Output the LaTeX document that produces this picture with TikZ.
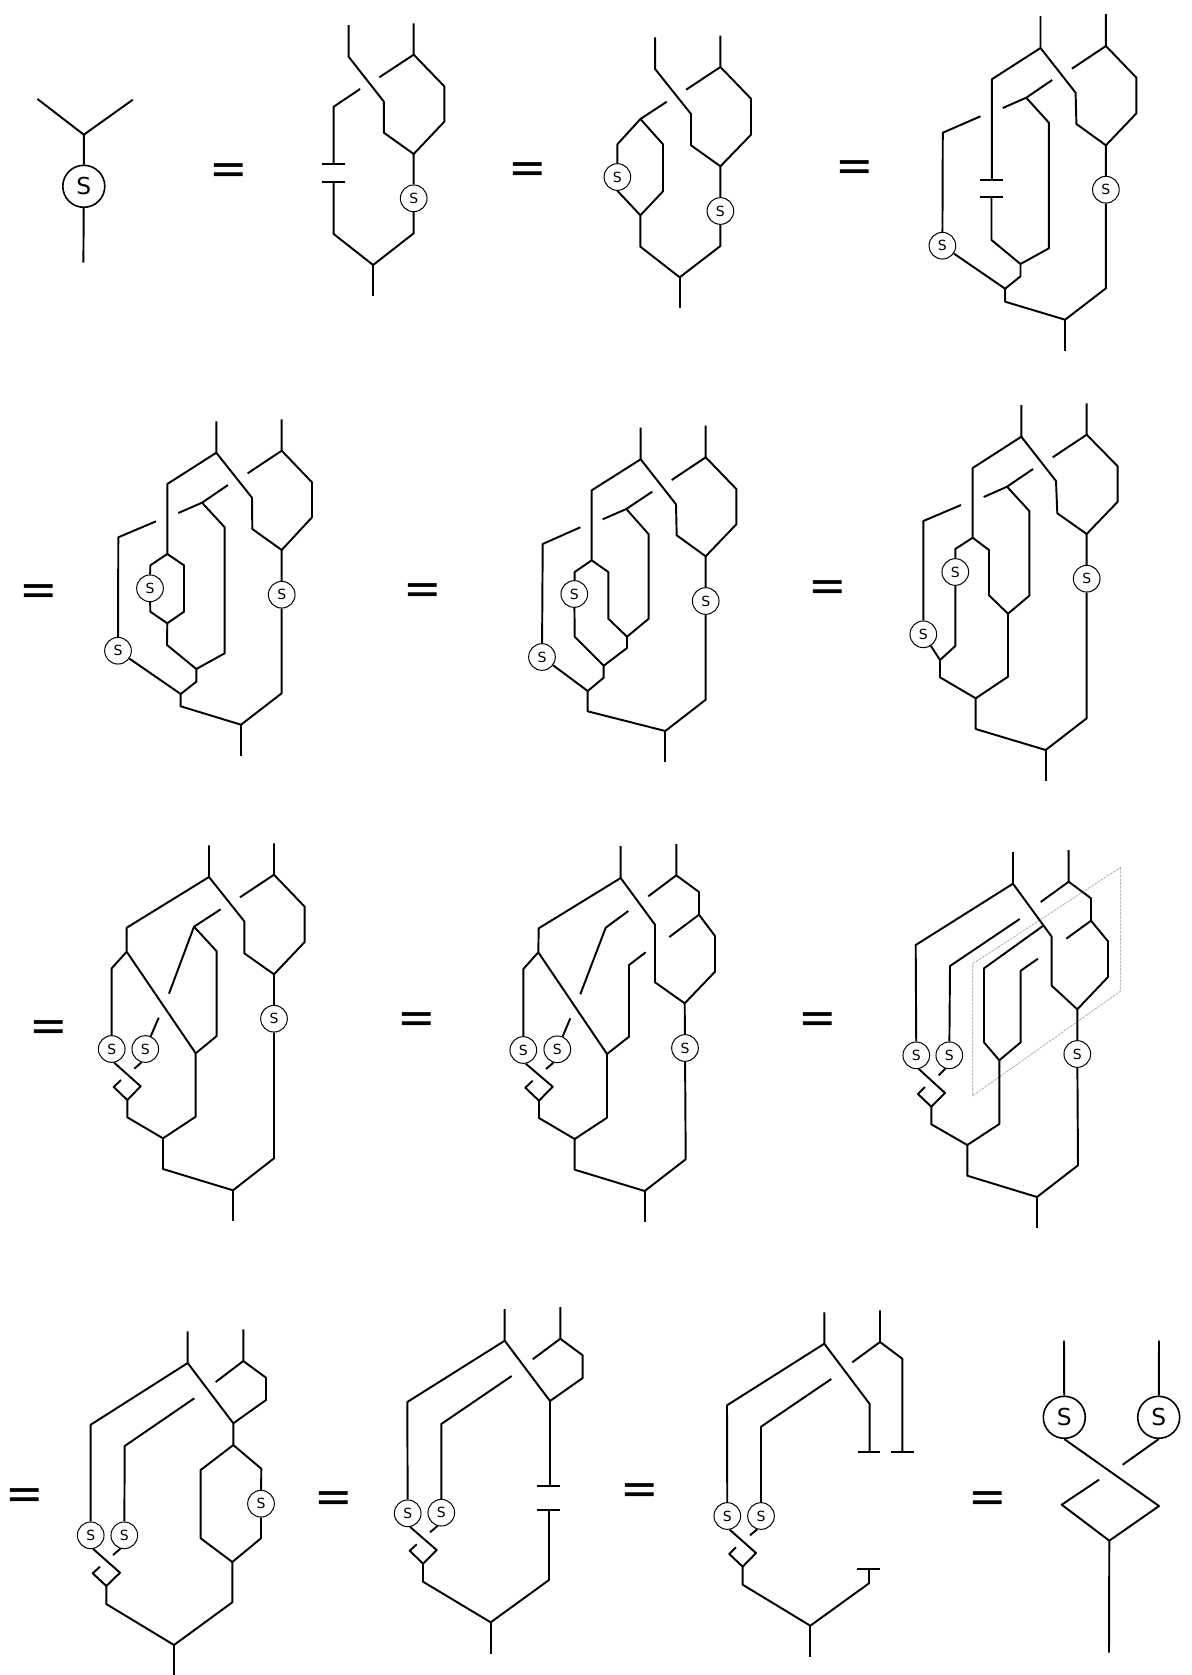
\documentclass[tikz,border=0pt]{standalone}
\usepackage{fontspec}
\setmainfont{DejaVu Sans}
\tikzset{
  wire/.style={line width=1.45pt,line join=round},
  capbar/.style={line width=1.45pt},
  smallS/.style={draw,circle,line width=0.75pt,minimum size=20pt,inner sep=0pt,font=\fontsize{10.5}{11}\selectfont},
  bigS/.style={draw,circle,line width=1.2pt,minimum size=31.5pt,inner sep=0pt,font=\fontsize{17.5}{18}\selectfont},
  eqsign/.style={anchor=base,yshift=-11.2pt,xshift=0.5pt,inner sep=0pt,font=\fontsize{34.5}{36}\selectfont},
  frame/.style={draw=black!40,line width=0.45pt,dash pattern=on 2pt off 0.8pt}
}
\begin{document}
\begin{tikzpicture}[x=0.75pt,y=-0.75pt]
\useasboundingbox (0,0) rectangle (1192,1675);
% equals signs
\node[eqsign] (e1) at (227.7,169.7) {=};
\node[eqsign] (e2) at (526.6,169) {=};
\node[eqsign] (e3) at (854.2,166.7) {=};
\node[eqsign] (e4) at (38.5,590.5) {=};
\node[eqsign] (e5) at (422,589.5) {=};
\node[eqsign] (e6) at (827,586.5) {=};
\node[eqsign] (e7) at (48,1026.5) {=};
\node[eqsign] (e8) at (416.5,1019) {=};
\node[eqsign] (e9) at (817,1019) {=};
\node[eqsign] (e10) at (24.5,1495) {=};
\node[eqsign] (e11) at (333,1497.5) {=};
\node[eqsign] (e12) at (639,1490) {=};
\node[eqsign] (e13) at (987,1497.5) {=};

% ---- diagram 1
\node[bigS] (a) at (83.8,186.3) {S};
\coordinate (aj) at (83.8,134.7);
\draw[wire] (37.5,99) -- (aj) -- (132.8,99.7);
\draw[wire] (aj) -- (a) -- (83.4,262.7);

% ---- diagram 2
\node[smallS] (bs) at (413.7,198.3) {S};
\coordinate (bm) at (413.7,154);
\coordinate (bt) at (413.7,54.7);
\coordinate (bb) at (373.1,265);
\draw[wire] (348.6,25) -- (348.6,56.7) -- (383.9,101.7) -- (383.9,132.7) -- (bm);
\draw[wire] (413.7,23.3) -- (bt) -- (379.3,77.3);
\draw[wire] (bt) -- (444.3,86.3) -- (444.3,121.7) -- (bm);
\draw[wire] (bm) -- (bs) -- (413.7,233.3) -- (bb) -- (333.7,234) -- (333.7,181.7);
\draw[wire] (bb) -- (373.1,295.7);
\draw[wire] (360.1,89) -- (333.7,106.7) -- (333.7,164);
\draw[capbar] (322.2,164) -- (345.2,164);
\draw[capbar] (322.2,181.7) -- (345.2,181.7);

% ---- diagram 3
\node[smallS] (cs) at (720.4,211) {S};
\node[smallS] (cl) at (617.4,177) {S};
\coordinate (cm) at (720.4,166.3);
\coordinate (ct) at (720.4,67);
\coordinate (cb) at (679.7,277.3);
\coordinate (cn) at (640.4,215.3);
\coordinate (ca) at (640.4,119);
\draw[wire] (655.1,37.3) -- (655.1,69) -- (691,114) -- (691,145.3) -- (cm);
\draw[wire] (720.4,35.7) -- (ct) -- (686.1,89.7);
\draw[wire] (ct) -- (751,98.7) -- (751,134.7) -- (cm);
\draw[wire] (cm) -- (cs) -- (720.4,246) -- (cb) -- (640.4,246.7) -- (cn);
\draw[wire] (cb) -- (679.7,308.3);
\draw[wire] (666.8,101.7) -- (ca) -- (617.4,144.3) -- (cl);
\draw[wire] (ca) -- (663,144.3) -- (663,191.3) -- (cn);
\draw[wire] (cl.south) -- (cn);

% ---- diagram 4
\node[smallS] (ds) at (1105.9,189.7) {S};
\node[smallS] (dl) at (942.4,245.7) {S};
\coordinate (dA) at (1040.5,48);
\coordinate (dB) at (1105.9,46);
\coordinate (dm) at (1105.9,145.3);
\coordinate (dj) at (1020.5,264);
\coordinate (dk) at (1005.1,288.7);
\coordinate (db) at (1065.1,319.7);
\coordinate (dv) at (1026.2,97.7);
\draw[wire] (1040.5,16) -- (dA) -- (991.8,79.3) -- (991.8,180.3);
\draw[capbar] (979.8,180.3) -- (1002.8,180.3);
\draw[capbar] (979.8,196.7) -- (1002.8,196.7);
\draw[wire] (991.5,196.7) -- (991.5,240) -- (dj);
\draw[wire] (dA) -- (1075.6,92.7) -- (1076.4,124) -- (dm);
\draw[wire] (1105.9,14) -- (dB) -- (1071.9,68.7);
\draw[wire] (dB) -- (1136.4,77.7) -- (1136.4,113.3) -- (dm);
\draw[wire] (dm) -- (ds) -- (1105.9,288.3) -- (db) -- (1005.1,301.7) -- (dk);
\draw[wire] (db) -- (1065.1,350.7);
\draw[wire] (980.5,116.3) -- (942.8,132.7) -- (dl);
\draw[wire] (dl) -- (dk) -- (1020.5,276.3) -- (dj);
\draw[wire] (dj) -- (1048.9,248.3) -- (1048.9,122.7) -- (dv);
\draw[wire] (1002.8,108) -- (dv) -- (1052.2,80);

% ---- diagram 5
\node[smallS] (fs) at (281.7,594.7) {S};
\node[smallS] (fl) at (118,650.7) {S};
\node[smallS] (fi) at (150,588.3) {S};
\coordinate (fA) at (216.3,452.7);
\coordinate (fB) at (281.7,450.7);
\coordinate (fm) at (281.7,550);
\coordinate (fh) at (167.3,554);
\coordinate (fe) at (167.3,623.3);
\coordinate (fj) at (196.3,669);
\coordinate (fk) at (180.7,694);
\coordinate (fb) at (241,724.7);
\coordinate (fv) at (202,502.7);
\draw[wire] (216.3,421.3) -- (fA) -- (167.3,484) -- (fh);
\draw[wire] (fh) -- (150.3,565.3) -- (fi) -- (150.3,611.7) -- (fe);
\draw[wire] (fh) -- (184,565.3) -- (184,611.7) -- (fe);
\draw[wire] (fe) -- (167,645) -- (fj);
\draw[wire] (fA) -- (252,497.7) -- (252.3,529) -- (fm);
\draw[wire] (281.7,419.3) -- (fB) -- (247.7,473.3);
\draw[wire] (fB) -- (312,482.3) -- (312,517.3) -- (fm);
\draw[wire] (fm) -- (fs) -- (281.7,693.3) -- (fb) -- (180.7,706.3) -- (fk);
\draw[wire] (fb) -- (241,755.7);
\draw[wire] (156,521.3) -- (118.3,537.3) -- (fl);
\draw[wire] (fl) -- (fk) -- (196.3,681.7) -- (fj);
\draw[wire] (fj) -- (224.7,653.3) -- (224.7,527.3) -- (fv);
\draw[wire] (178.3,513) -- (fv) -- (228,485);

% ---- diagram 6
\node[smallS] (gs) at (705.7,601) {S};
\node[smallS] (gl) at (542,657) {S};
\node[smallS] (gi) at (574.3,594) {S};
\coordinate (gA) at (640.7,459.3);
\coordinate (gB) at (705.7,457.3);
\coordinate (gm) at (705.7,556.3);
\coordinate (gh) at (591.7,560.3);
\coordinate (gj) at (603.7,665.7);
\coordinate (gn) at (627,636.7);
\coordinate (gk) at (587.7,691);
\coordinate (gb) at (665.3,731);
\coordinate (gv) at (626.3,509);
\draw[wire] (640.7,427.7) -- (gA) -- (591.7,490.3) -- (gh);
\draw[wire] (gh) -- (574.7,572) -- (gi) -- (574.7,636.7) -- (gj);
\draw[wire] (gh) -- (608.3,572) -- (608.3,618.7) -- (gn);
\draw[wire] (gn) -- (627,648) -- (gj) -- (603.7,677.7) -- (gk);
\draw[wire] (gn) -- (648.7,618.7) -- (648.7,534.3) -- (gv);
\draw[wire] (602.7,519.3) -- (gv) -- (652.3,491.7);
\draw[wire] (gA) -- (676,504.3) -- (676.7,535.3) -- (gm);
\draw[wire] (705.7,425.7) -- (gB) -- (671.7,480);
\draw[wire] (gB) -- (736.3,489) -- (736.3,524.3) -- (gm);
\draw[wire] (gm) -- (gs) -- (705.7,699.7) -- (gb) -- (587.7,711.3) -- (gk);
\draw[wire] (gb) -- (665.3,762);
\draw[wire] (580.3,527.3) -- (542.7,544) -- (gl);
\draw[wire] (gl) -- (gk);

% ---- diagram 7
\node[smallS] (hs) at (1086.7,578.7) {S};
\node[smallS] (hl) at (923.3,634.3) {S};
\node[smallS] (hi) at (955.3,572) {S};
\coordinate (hA) at (1021.3,436.7);
\coordinate (hB) at (1086.7,434.7);
\coordinate (hm) at (1086.7,534);
\coordinate (hh) at (972.7,537.7);
\coordinate (hn) at (1008,613.7);
\coordinate (hk) at (940,660);
\coordinate (hc) at (975.7,698.3);
\coordinate (hb) at (1045.7,750);
\coordinate (hv) at (1007,486.7);
\draw[wire] (1021.3,405) -- (hA) -- (972.7,468) -- (hh);
\draw[wire] (hh) -- (955.3,549) -- (hi) -- (955.3,646) -- (hk);
\draw[wire] (hh) -- (989,550) -- (989,595.3) -- (hn);
\draw[wire] (hn) -- (1008,676.7) -- (hc) -- (940,677.3) -- (hk);
\draw[wire] (hn) -- (1029.3,595.7) -- (1029.3,511) -- (hv);
\draw[wire] (983.7,497) -- (hv) -- (1033,469);
\draw[wire] (hl) -- (hk);
\draw[wire] (961,505) -- (923.3,521) -- (hl);
\draw[wire] (hA) -- (1056,481) -- (1057.3,513.3) -- (hm);
\draw[wire] (1086.7,403.3) -- (hB) -- (1052.7,457.3);
\draw[wire] (hB) -- (1117.7,466.3) -- (1117.7,501.7) -- (hm);
\draw[wire] (hm) -- (hs) -- (1086.7,718.3) -- (hb) -- (975.7,729) -- (hc);
\draw[wire] (hb) -- (1045.7,781);

% ---- diagram 8
\node[smallS] (is) at (274,1018.7) {S};
\node[smallS] (il) at (111.7,1049) {S};
\node[smallS] (ir) at (145.3,1049) {S};
\coordinate (iA) at (209,877);
\coordinate (iB) at (274,874.7);
\coordinate (im) at (274,974.3);
\coordinate (ih) at (126.7,951.7);
\coordinate (in) at (195.7,1053.3);
\coordinate (iv) at (194,926.7);
\coordinate (id) at (127.3,1100);
\coordinate (ic) at (163,1138.3);
\coordinate (ib) at (233,1190.3);
\draw[wire] (209,845.3) -- (iA) -- (126.7,927.7) -- (ih);
\draw[wire] (ih) -- (111.7,968.3) -- (il);
\draw[wire] (ih) -- (in);
\draw[wire] (in) -- (216.7,1036) -- (216.7,951.3) -- (iv);
\draw[wire] (220.7,909.3) -- (iv) -- (169,993.7);
\draw[wire] (158.7,1017.7) -- (ir);
\draw[wire] (ir.-106) -- (134.3,1068.7);
\draw[wire] (il.-80) -- (140.7,1086.3) -- (id) -- (113.7,1087) -- (121,1080);
\draw[wire] (id) -- (127.3,1117.3) -- (ic) -- (195.7,1116.7) -- (in);
\draw[wire] (ic) -- (163,1169) -- (ib) -- (274,1158.3) -- (is) -- (im);
\draw[wire] (ib) -- (233,1221.3);
\draw[wire] (iA) -- (244.3,921.3) -- (244.3,953.3) -- (im);
\draw[wire] (274,843.3) -- (iB) -- (240,897.3);
\draw[wire] (iB) -- (304.7,906.7) -- (304.7,942) -- (im);

% ---- diagram 9
\node[smallS] (js) at (685,1048) {S};
\node[smallS] (jl) at (523.3,1050) {S};
\node[smallS] (jr) at (557.3,1049.3) {S};
\coordinate (jA) at (620.7,878);
\coordinate (jB) at (676.3,875.3);
\coordinate (jm) at (684.7,1003.3);
\coordinate (jh) at (538.3,952.3);
\coordinate (jn) at (607,1054);
\coordinate (jd) at (539,1100.7);
\coordinate (jc) at (574.7,1139);
\coordinate (jb) at (644.7,1191);
\coordinate (jq) at (699,914.7);
\draw[wire] (620.7,846) -- (jA) -- (538.7,928.3) -- (jh);
\draw[wire] (jh) -- (523.3,969) -- (jl);
\draw[wire] (jh) -- (jn);
\draw[wire] (jn) -- (629,1036.7) -- (629,965) -- (645.7,952.3);
\draw[wire] (628.3,911) -- (605.7,927.7) -- (580.3,994.3);
\draw[wire] (570.3,1018.3) -- (jr);
\draw[wire] (jr.-106) -- (546,1069);
\draw[wire] (jl.-80) -- (552.7,1086.7) -- (jd) -- (525.3,1087.7) -- (532.7,1080.7);
\draw[wire] (jd) -- (539,1118) -- (jc) -- (607,1117.7) -- (jn);
\draw[wire] (jc) -- (574.7,1169.7) -- (jb) -- (685.7,1159.3) -- (js) -- (jm);
\draw[wire] (jb) -- (644.7,1222);
\draw[wire] (jA) -- (655,924.7) -- (655,982.3) -- (jm);
\draw[wire] (676.3,844) -- (jB) -- (648.3,896.3);
\draw[wire] (jB) -- (699,892) -- (jq) -- (669.3,937);
\draw[wire] (jq) -- (715,936) -- (715,971.7) -- (jm);

% ---- diagram 10
\draw[frame] (1120.7,867.3) -- (1120.7,991) -- (972.7,1095.7) -- (972.7,963.7) -- cycle;
\node[smallS] (ks) at (1077.3,1054) {S};
\node[smallS] (kl) at (916.3,1055.3) {S};
\node[smallS] (kr) at (949.3,1055.3) {S};
\coordinate (kA) at (1013,883.7);
\coordinate (kB) at (1068.7,881.7);
\coordinate (km) at (1077.3,1009.3);
\coordinate (kn) at (999.3,1060.3);
\coordinate (kd) at (931.3,1106.7);
\coordinate (kc) at (967.3,1145);
\coordinate (kb) at (1037,1197);
\coordinate (kq) at (1091,920.7);
\draw[wire] (1013,852) -- (kA) -- (915.7,945) -- (kl);
\draw[wire] (kr) -- (950,966) -- (1019.7,919);
\draw[wire] (kr.-106) -- (938.7,1075.3);
\draw[wire] (kl.-80) -- (945,1093) -- (kd) -- (918,1094) -- (925,1087);
\draw[wire] (kd) -- (931.3,1124.3) -- (kc) -- (999.3,1124) -- (kn);
\draw[wire] (kn) -- (984,1042.3) -- (984,968.3) -- (1043.3,925.7);
\draw[wire] (kn) -- (1020.7,1042.3) -- (1020.7,970.7) -- (1038,958.7);
\draw[wire] (kA) -- (1051.7,936.7) -- (1051.7,985.7) -- (km);
\draw[wire] (1068.7,850) -- (kB) -- (1040.7,902);
\draw[wire] (kB) -- (1091,898.3) -- (kq) -- (1066.3,938.7);
\draw[wire] (kq) -- (1108,941.3) -- (1108,977) -- (km);
\draw[wire] (km) -- (ks) -- (1078,1165.3) -- (kb) -- (967.3,1175.7) -- (kc);
\draw[wire] (kb) -- (1037,1228);

% ---- diagram 11
\node[smallS] (ms) at (261,1503.7) {S};
\node[smallS] (ml) at (90.7,1535.3) {S};
\node[smallS] (mr) at (124.3,1535.3) {S};
\coordinate (mA) at (187.7,1363);
\coordinate (mB) at (243.3,1361);
\coordinate (mt) at (233.3,1423.3);
\coordinate (mu) at (233.3,1445);
\coordinate (mn) at (232.3,1562);
\coordinate (md) at (106.3,1586);
\coordinate (mb) at (174,1645);
\draw[wire] (187.7,1331.3) -- (mA) -- (90.7,1424.7) -- (ml);
\draw[wire] (mr) -- (124.7,1446) -- (194.3,1398.3);
\draw[wire] (mr.-106) -- (113,1555);
\draw[wire] (ml.-80) -- (120,1572.7) -- (md) -- (92.7,1573.3) -- (100,1566.7);
\draw[wire] (md) -- (106.3,1604) -- (mb) -- (232.3,1602.3) -- (mn);
\draw[wire] (mb) -- (174,1674.7);
\draw[wire] (mA) -- (mt) -- (mu);
\draw[wire] (243.3,1329.3) -- (mB) -- (215.7,1382);
\draw[wire] (mB) -- (266,1377.7) -- (266,1400) -- (mt);
\draw[wire] (mu) -- (200.7,1470) -- (200.7,1538.3) -- (mn);
\draw[wire] (mu) -- (261.3,1468.7) -- (ms) -- (261,1538.3) -- (mn);

% ---- diagram 12
\node[smallS] (nl) at (407.7,1513.3) {S};
\node[smallS] (nr) at (441.3,1512.7) {S};
\coordinate (nA) at (504.7,1340.7);
\coordinate (nB) at (560.3,1338.7);
\coordinate (nt) at (550,1401);
\coordinate (nd) at (423,1563.7);
\coordinate (nb) at (490.7,1622.3);
\draw[wire] (504.7,1309) -- (nA) -- (407.3,1402) -- (nl);
\draw[wire] (nr) -- (441.3,1424) -- (511.7,1376);
\draw[wire] (nr.-106) -- (430,1532.3);
\draw[wire] (nl.-80) -- (436.7,1550) -- (nd) -- (409.7,1550.7) -- (416.7,1544.3);
\draw[wire] (nd) -- (423,1581.7) -- (nb) -- (549,1580) -- (549,1510);
\draw[capbar] (537.3,1510) -- (560.3,1510);
\draw[wire] (nb) -- (490.7,1654);
\draw[wire] (nA) -- (nt) -- (550,1485.7);
\draw[capbar] (537.3,1485.7) -- (560.3,1485.7);
\draw[wire] (560.3,1307) -- (nB) -- (532.7,1359.3);
\draw[wire] (nB) -- (582.7,1355.3) -- (582.7,1378) -- (nt);

% ---- diagram 13
\node[smallS] (ol) at (727.3,1516) {S};
\node[smallS] (or) at (761,1516) {S};
\coordinate (oA) at (824.3,1343.7);
\coordinate (oB) at (880,1342);
\coordinate (od) at (742.7,1566.7);
\coordinate (ob) at (810.3,1625.7);
\draw[wire] (824.3,1312.3) -- (oA) -- (727,1405.3) -- (ol);
\draw[wire] (or) -- (761,1426.7) -- (831.3,1379);
\draw[wire] (or.-106) -- (750,1535.3);
\draw[wire] (ol.-80) -- (756,1553) -- (od) -- (729.3,1554) -- (736,1547.3);
\draw[wire] (od) -- (742.7,1584.7) -- (ob) -- (869,1583.3) -- (869,1569);
\draw[capbar] (857.3,1569) -- (880,1569);
\draw[wire] (ob) -- (810.3,1657.3);
\draw[wire] (oA) -- (869.7,1404) -- (869.7,1452.3);
\draw[capbar] (857.7,1452.3) -- (880.3,1452.3);
\draw[wire] (880,1310.3) -- (oB) -- (852.3,1362.3);
\draw[wire] (oB) -- (902.3,1358.7) -- (902.3,1451.7);
\draw[capbar] (891.3,1451.7) -- (913.7,1451.7);

% ---- diagram 14
\node[bigS] (pl) at (1064.3,1417.3) {S};
\node[bigS] (pr) at (1158.7,1417.3) {S};
\coordinate (pj) at (1109.3,1540.7);
\draw[wire] (1064,1340.7) -- (pl);
\draw[wire] (1159,1340.7) -- (pr);
\draw[wire] (pl.south) -- (1159,1506) -- (pj) -- (1061.7,1504.7) -- (1099,1479.7);
\draw[wire] (pr.south) -- (1122.7,1464.7);
\draw[wire] (pj) -- (1109,1652.7);
\end{tikzpicture}
\end{document}
